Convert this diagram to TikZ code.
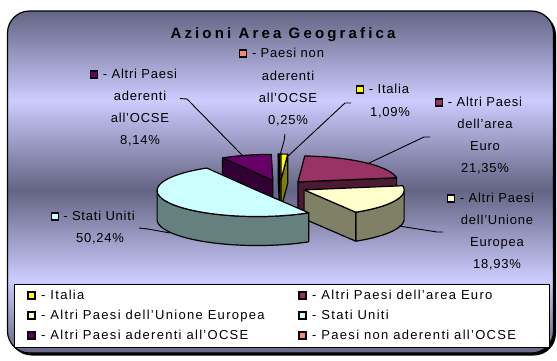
\documentclass[tikz,border=0pt]{standalone}
\usepackage{fontspec}
\setmainfont{Liberation Sans}
\newfontfamily\lblfont[LetterSpace=6]{Liberation Sans}
\newfontfamily\lgdfont[LetterSpace=10]{Liberation Sans}
\newfontfamily\ttlfont[LetterSpace=21]{Liberation Sans}
\definecolor{bgdark}{RGB}{100,100,132}
\definecolor{bglight}{RGB}{204,204,255}
\pgfdeclareverticalshading{bgshade}{100bp}{color(0bp)=(bgdark); color(25bp)=(bgdark); color(35.67bp)=(bglight); color(48.83bp)=(bgdark); color(61.99bp)=(bglight); color(75bp)=(bgdark); color(100bp)=(bgdark)}
\definecolor{cIt}{HTML}{FFFF00}\definecolor{sIt}{HTML}{808000}
\definecolor{cEu}{HTML}{993366}\definecolor{sEu}{HTML}{4D1A33}
\definecolor{cUe}{HTML}{FFFFCC}\definecolor{sUe}{HTML}{808066}
\definecolor{cUs}{HTML}{CCFFFF}\definecolor{sUs}{HTML}{668080}
\definecolor{cOc}{HTML}{660066}\definecolor{sOc}{HTML}{330033}
\definecolor{cNo}{HTML}{FF8080}\definecolor{sNo}{HTML}{804040}
\def\pieCX{280}\def\pieCY{187}\def\pieRX{100}\def\pieRY{26}\def\pieH{29}\def\pieD{0.266}
\newcommand\slicectr[2]{\pgfmathsetmacro\sliceMid{(#1+#2)/2}%
  \pgfmathsetmacro\sCX{\pieCX+\pieD*\pieRX*sin(\sliceMid)}%
  \pgfmathsetmacro\sCY{\pieCY-\pieD*\pieRY*cos(\sliceMid)}}
\newcommand\radface[2]{\filldraw[pieedge, fill=#2] (\sCX,\sCY) -- ({\sCX+\pieRX*sin(#1)},{\sCY-\pieRY*cos(#1)}) -- ({\sCX+\pieRX*sin(#1)},{\sCY-\pieRY*cos(#1)+\pieH}) -- (\sCX,{\sCY+\pieH}) -- cycle;}
\newcommand\outwall[3]{\filldraw[pieedge, fill=#3] plot[domain=#1:#2, samples=50] ({\sCX+\pieRX*sin(\x)},{\sCY-\pieRY*cos(\x)}) -- plot[domain=#2:#1, samples=50] ({\sCX+\pieRX*sin(\x)},{\sCY-\pieRY*cos(\x)+\pieH}) -- cycle;}
\newcommand\topface[3]{\filldraw[pieedge, fill=#3] (\sCX,\sCY) -- plot[domain=#1:#2, samples=50] ({\sCX+\pieRX*sin(\x)},{\sCY-\pieRY*cos(\x)}) -- cycle;}
\begin{document}
\begin{tikzpicture}[x=1pt,y=-1pt,
  pieedge/.style={draw=black, line width=1.2pt, line join=round},
  lbl/.style={font=\lblfont\fontsize{13}{15}\selectfont, inner sep=0pt, anchor=base},
  lgd/.style={font=\lgdfont\fontsize{13}{15}\selectfont, inner sep=0pt, anchor=base west},
  mk/.style={draw=black, line width=1.1pt, minimum size=7pt, inner sep=0pt, outer sep=0pt},
  leader/.style={draw=black, line width=0.9pt},
  ttl/.style={font=\ttlfont\bfseries\fontsize{15}{18}\selectfont, inner sep=0pt, anchor=base}]
\useasboundingbox (0,0) rectangle (557,360);
% frame
\fill[black, rounded corners=22pt] (9.5,13) rectangle (556,355.5);
\shadedraw[shading=bgshade, draw=black, line width=1.2pt, rounded corners=22pt] (7.5,11) rectangle (553.5,353);
% title
\node[ttl] (title) at (283,38.3) {Azioni Area Geografica};
% pie slices (back to front)
\slicectr{329.796}{359.1}
\radface{329.796}{sOc}
\topface{329.796}{359.1}{cOc}
\slicectr{359.1}{360}
\radface{359.1}{sNo}
\topface{359.1}{360}{cNo}
\slicectr{0}{3.924}
\radface{3.924}{sIt}
\topface{0}{3.924}{cIt}
\slicectr{3.924}{80.784}
\radface{80.784}{sEu}
\topface{3.924}{80.784}{cEu}
\slicectr{80.784}{148.932}
\outwall{90}{148.932}{sUe}
\radface{148.932}{sUe}
\topface{80.784}{148.932}{cUe}
\slicectr{148.932}{329.796}
\outwall{148.932}{270}{sUs}
\topface{148.932}{329.796}{cUs}
% labels
\node[lbl] (o1) at (140,78) {- Altri Paesi};
\node[lbl] (o2) at (140,100) {aderenti};
\node[lbl] (o3) at (140,122.5) {all’OCSE};
\node[lbl] (o4) at (140,144) {8,14\%};
\node[mk, fill=cOc, anchor=south east] (om) at ([xshift=-5pt]o1.base west) {};
\node[lbl] (n1) at (288,57) {- Paesi non};
\node[lbl] (n2) at (288,80) {aderenti};
\node[lbl] (n3) at (288,102) {all’OCSE};
\node[lbl] (n4) at (288,124) {0,25\%};
\node[mk, fill=cNo, anchor=south east] (nm) at ([xshift=-5pt]n1.base west) {};
\node[lbl] (i1) at (389,93) {- Italia};
\node[lbl] (i2) at (390,116) {1,09\%};
\node[mk, fill=cIt, anchor=south east] (im) at ([xshift=-5pt]i1.base west) {};
\node[lbl] (e1) at (485,106) {- Altri Paesi};
\node[lbl] (e2) at (485,128) {dell’area};
\node[lbl] (e3) at (485,150) {Euro};
\node[lbl] (e4) at (485,172) {21,35\%};
\node[mk, fill=cEu, anchor=south east] (em) at ([xshift=-5pt]e1.base west) {};
\node[lbl] (u1) at (497,202) {- Altri Paesi};
\node[lbl] (u2) at (497,224) {dell’Unione};
\node[lbl] (u3) at (497,246) {Europea};
\node[lbl] (u4) at (497,268) {18,93\%};
\node[mk, fill=cUe, anchor=south east] (um) at ([xshift=-5pt]u1.base west) {};
\node[lbl] (s1) at (99,220) {- Stati Uniti};
\node[lbl] (s2) at (100,242) {50,24\%};
\node[mk, fill=cUs, anchor=south east] (sm) at ([xshift=-5pt]s1.base west) {};
% leader lines
\coordinate (oA) at (180,98.5); \coordinate (oB) at (187,99); \coordinate (oC) at (243,156);
\draw[leader] (oA) -- (oB) -- (oC);
\coordinate (nA) at (285,134); \coordinate (nB) at (284,141); \coordinate (nC) at (280,155);
\draw[leader] (nA) -- (nB) -- (nC);
\coordinate (iA) at (351,103); \coordinate (iB) at (345,103); \coordinate (iC) at (287,157);
\draw[leader] (iA) -- (iB) -- (iC);
\coordinate (eA) at (430,137); \coordinate (eB) at (424,137); \coordinate (eC) at (367,164);
\draw[leader] (eA) -- (eB) -- (eC);
\coordinate (uA) at (443,232); \coordinate (uB) at (437,232); \coordinate (uC) at (399,226);
\draw[leader] (uA) -- (uB) -- (uC);
\coordinate (sA) at (139,228); \coordinate (sB) at (148,229); \coordinate (sC) at (170,233);
\draw[leader] (sA) -- (sB) -- (sC);
% legend
\node[draw=black, line width=1.2pt, fill=white, minimum width=535pt, minimum height=63pt, anchor=north west, inner sep=0pt] (legend) at (14,284) {};
\node[lgd] (l1) at (41,299) {- Italia};
\node[lgd] (l2) at (41,319) {- Altri Paesi dell’Unione Europea};
\node[lgd] (l3) at (41,339) {- Altri Paesi aderenti all’OCSE};
\node[lgd] (l4) at (312,299) {- Altri Paesi dell’area Euro};
\node[lgd] (l5) at (312,319) {- Stati Uniti};
\node[lgd] (l6) at (312,339) {- Paesi non aderenti all’OCSE};
\node[mk, fill=cIt, anchor=south east] (lm1) at ([xshift=-6pt]l1.base west) {};
\node[mk, fill=cUe, anchor=south east] (lm2) at ([xshift=-6pt]l2.base west) {};
\node[mk, fill=cOc, anchor=south east] (lm3) at ([xshift=-6pt]l3.base west) {};
\node[mk, fill=cEu, anchor=south east] (lm4) at ([xshift=-6pt]l4.base west) {};
\node[mk, fill=cUs, anchor=south east] (lm5) at ([xshift=-6pt]l5.base west) {};
\node[mk, fill=cNo, anchor=south east] (lm6) at ([xshift=-6pt]l6.base west) {};
\end{tikzpicture}
\end{document}
